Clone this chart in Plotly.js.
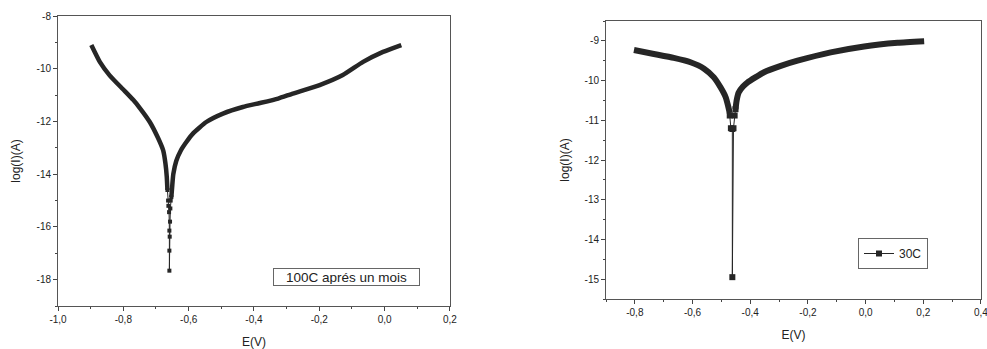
<!DOCTYPE html>
<html>
<head>
<meta charset="utf-8">
<script src="https://cdn.plot.ly/plotly-3.0.1.min.js"></script>
<style>html,body{margin:0;padding:0;background:#fff;}#chart{width:987px;height:349px;}</style>
</head>
<body>
<div id="chart"></div>
<script>
// ---- Left chart: 100C après un mois ----
const leftCathE   = [-0.898, -0.872, -0.842, -0.801, -0.770, -0.750, -0.719, -0.694, -0.678, -0.671, -0.667, -0.665];
const leftCathLog = [-9.10, -9.74, -10.25, -10.78, -11.18, -11.48, -12.02, -12.62, -13.10, -13.60, -14.10, -14.60];
const leftTailE   = [-0.665, -0.663, -0.662, -0.660, -0.659, -0.659, -0.659, -0.658, -0.657, -0.656, -0.655, -0.653];
const leftTailLog = [-14.60, -15.00, -15.20, -15.44, -16.14, -16.90, -17.66, -16.37, -15.80, -15.30, -15.00, -14.87];
const leftAnodE   = [-0.653, -0.650, -0.647, -0.638, -0.624, -0.607, -0.587, -0.546, -0.495, -0.434, -0.382, -0.326, -0.281, -0.199, -0.128, -0.066, -0.005, 0.051];
const leftAnodLog = [-14.87, -14.40, -14.00, -13.50, -13.10, -12.78, -12.46, -12.02, -11.70, -11.45, -11.30, -11.13, -10.94, -10.62, -10.24, -9.74, -9.36, -9.10];
const leftLabel   = "100C aprés un mois";
const leftXTicks  = [-1.0, -0.8, -0.6, -0.4, -0.2, 0.0, 0.2];
const leftXText   = ["-1,0", "-0,8", "-0,6", "-0,4", "-0,2", "0,0", "0,2"];
const leftYTicks  = [-8, -10, -12, -14, -16, -18];
const leftYText   = ["-8", "-10", "-12", "-14", "-16", "-18"];

// ---- Right chart: 30C ----
const rightCathE   = [-0.803, -0.734, -0.665, -0.607, -0.560, -0.526, -0.503, -0.485, -0.477, -0.471];
const rightCathLog = [-9.23, -9.33, -9.43, -9.54, -9.70, -9.92, -10.17, -10.42, -10.63, -10.82];
const rightTailE   = [-0.471, -0.467, -0.462, -0.462, -0.458, -0.454, -0.451];
const rightTailLog = [-10.88, -11.20, -11.22, -14.95, -11.20, -10.88, -10.72];
const rightAnodE   = [-0.451, -0.447, -0.440, -0.425, -0.410, -0.352, -0.294, -0.236, -0.121, -0.005, 0.111, 0.203];
const rightAnodLog = [-10.72, -10.50, -10.30, -10.15, -10.05, -9.79, -9.63, -9.50, -9.29, -9.14, -9.05, -9.01];
const rightLabel   = "30C";
const rightXTicks  = [-0.8, -0.6, -0.4, -0.2, 0.0, 0.2, 0.4];
const rightXText   = ["-0,8", "-0,6", "-0,4", "-0,2", "0,0", "0,2", "0,4"];
const rightYTicks  = [-9, -10, -11, -12, -13, -14, -15];
const rightYText   = ["-9", "-10", "-11", "-12", "-13", "-14", "-15"];

const xTitle = "E(V)";
const yTitle = "log(I)(A)";

const ink = "#262626";
const font = "Liberation Sans, Arial, sans-serif";

function branch(x, y, xa, ya, w) {
  return {x: x, y: y, xaxis: xa, yaxis: ya, type: "scatter", mode: "lines",
    line: {color: ink, width: w, shape: "spline", smoothing: 0.5}, showlegend: false, hoverinfo: "skip"};
}
function tail(x, y, xa, ya, ms, name, show) {
  return {x: x, y: y, xaxis: xa, yaxis: ya, type: "scatter", mode: "lines+markers", name: name,
    line: {color: ink, width: 1}, marker: {symbol: "square", size: ms, color: ink},
    showlegend: show, hoverinfo: "skip"};
}

const traces = [
  branch(leftCathE, leftCathLog, "x", "y", 4.5),
  tail(leftTailE, leftTailLog, "x", "y", 4, leftLabel, false),
  branch(leftAnodE, leftAnodLog, "x", "y", 4.5),
  branch(rightCathE, rightCathLog, "x2", "y2", 6),
  tail(rightTailE, rightTailLog, "x2", "y2", 6, rightLabel, true),
  branch(rightAnodE, rightAnodLog, "x2", "y2", 6)
];

function axis(extra) {
  return Object.assign({
    showgrid: false, zeroline: false, showline: true, linecolor: "#555", linewidth: 1,
    mirror: true, ticks: "outside", ticklen: 4, tickcolor: "#444", tickwidth: 1,
    tickfont: {family: font, size: 10, color: "#222"}, tickmode: "array",
    ticklabeloverflow: "allow", fixedrange: true
  }, extra);
}
const titleFont = {family: font, size: 12, color: "#222"};

const layout = {
  width: 987, height: 349,
  margin: {l: 0, r: 0, t: 0, b: 0},
  paper_bgcolor: "#fff", plot_bgcolor: "#fff",
  font: {family: font, color: "#222"},
  xaxis: axis({domain: [58/987, 450/987], range: [-1.0, 0.2001], anchor: "y",
    tickvals: leftXTicks, ticktext: leftXText,
    minor: {dtick: 0.1, tick0: 0, ticklen: 2, ticks: "outside", tickcolor: "#444"},
    title: {text: xTitle, font: titleFont, standoff: 15}}),
  yaxis: axis({domain: [1 - 306/349, 1 - 16/349], range: [-19, -7.999], anchor: "x",
    tickvals: leftYTicks, ticktext: leftYText,
    minor: {dtick: 1, tick0: 0, ticklen: 2, ticks: "outside", tickcolor: "#444"},
    title: {text: yTitle, font: titleFont, standoff: 13}}),
  xaxis2: axis({domain: [606/987, 981/987], range: [-0.9, 0.4001], anchor: "y2",
    tickvals: rightXTicks, ticktext: rightXText,
    minor: {dtick: 0.1, tick0: 0, ticklen: 2, ticks: "outside", tickcolor: "#444"},
    title: {text: xTitle, font: titleFont, standoff: 13}}),
  yaxis2: axis({domain: [1 - 299/349, 1 - 21/349], range: [-15.5, -8.5], anchor: "x2",
    tickvals: rightYTicks, ticktext: rightYText,
    minor: {dtick: 0.5, tick0: 0, ticklen: 2, ticks: "outside", tickcolor: "#444"},
    title: {text: yTitle, font: titleFont, standoff: 12}}),
  showlegend: true,
  legend: {x: 858/987, y: 1 - 253.5/349, xanchor: "left", yanchor: "middle",
    bgcolor: "#fff", bordercolor: "#666", borderwidth: 1,
    font: {family: font, size: 12, color: "#222"}, tracegroupgap: 0},
  annotations: [{
    xref: "paper", yref: "paper", x: 273/987, y: 1 - 268/349, xanchor: "left", yanchor: "top",
    text: leftLabel, showarrow: false, font: {family: font, size: 13.5, color: "#222"},
    width: 143, height: 14, align: "center",
    bordercolor: "#666", borderwidth: 1, borderpad: 1, bgcolor: "#fff"
  }]
};

Plotly.newPlot("chart", traces, layout, {displayModeBar: false, staticPlot: true});
</script>
</body>
</html>
